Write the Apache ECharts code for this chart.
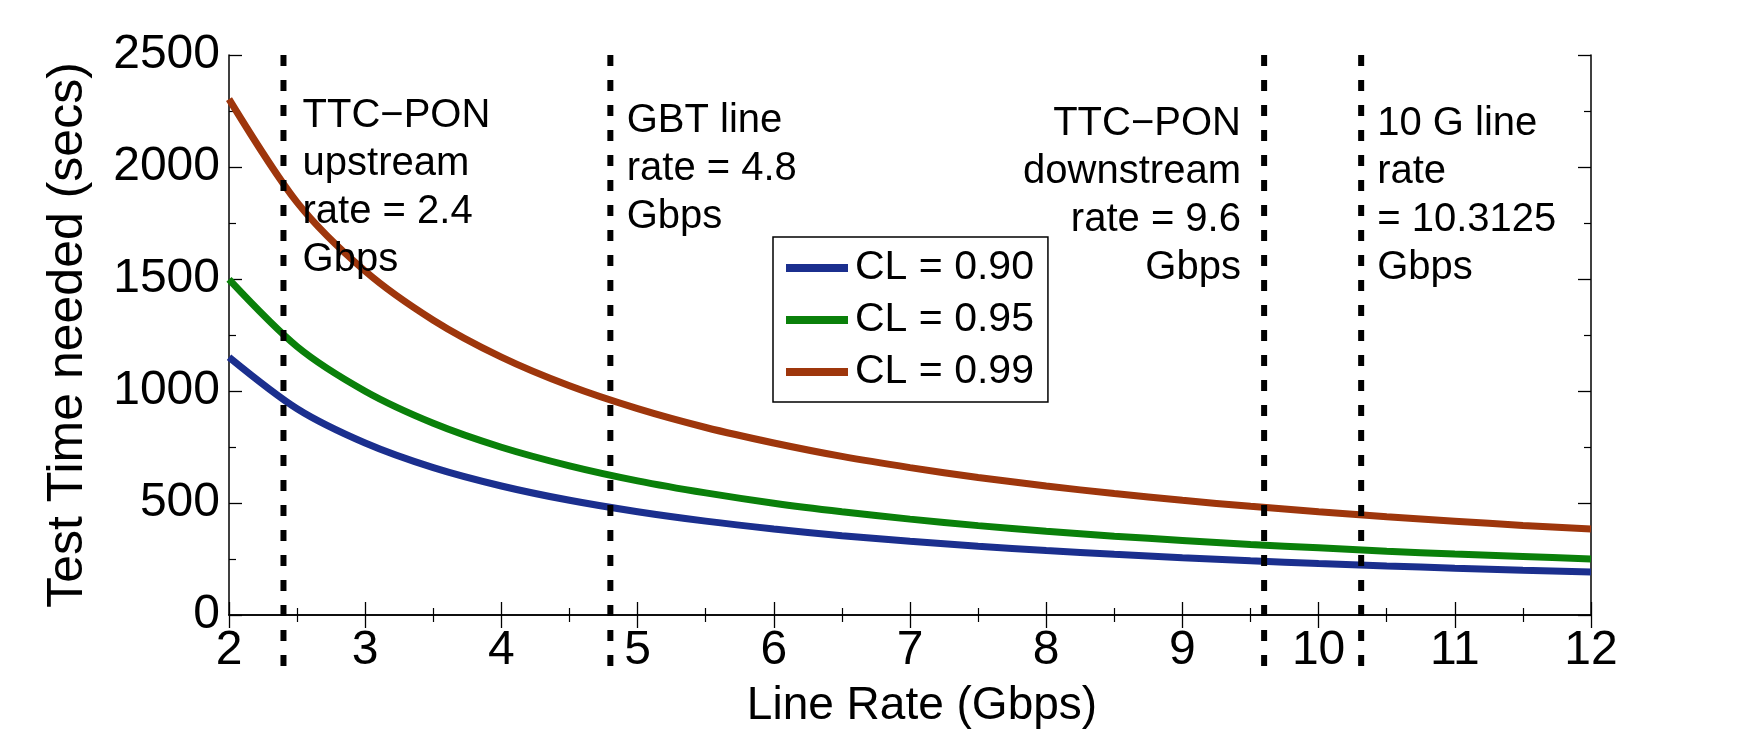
<!DOCTYPE html>
<html>
<head>
<meta charset="utf-8">
<script src="https://cdn.jsdelivr.net/npm/echarts@6/dist/echarts.min.js"></script>
<style>
  html, body { margin: 0; padding: 0; background: #fff; }
  #chart { width: 1759px; height: 753px; }
</style>
</head>
<body>
<div id="chart"></div>
<script>
// line rates (Gbps) sampled along the curves
const rates = [2, 2.5, 3, 3.5, 4, 4.5, 5, 5.5, 6, 6.5, 7, 7.5, 8, 8.5, 9, 9.5, 10, 10.5, 11, 11.5, 12];

// test time needed (secs)
const cl90 = [1151, 921, 768, 658, 576, 512, 461, 419, 384, 354, 329, 307, 288, 271, 256, 242, 230, 219, 209, 200, 192];
const cl95 = [1498, 1198, 999, 856, 749, 666, 599, 545, 499, 461, 428, 399, 374, 352, 333, 315, 300, 285, 272, 261, 250];
const cl99 = [2303, 1842, 1535, 1316, 1151, 1023, 921, 837, 768, 708, 658, 614, 576, 542, 512, 485, 461, 439, 419, 400, 384];

const seriesNames = ["CL = 0.90", "CL = 0.95", "CL = 0.99"];
const seriesColors = ["#1b2f8e", "#0a800a", "#9e360c"];

// reference rates marked by dashed lines
const markRates = [2.4, 4.8, 9.6, 10.3125];

// annotation texts: [x, y, align, lines]
const notes = [
  [2.54, 2335, "left", ["TTC\u2212PON", "upstream", "rate = 2.4", "Gbps"]],
  [4.92, 2313, "left", ["GBT line", "rate = 4.8", "Gbps"]],
  [9.43, 2299, "right", ["TTC\u2212PON", "downstream", "rate = 9.6", "Gbps"]],
  [10.43, 2299, "left", ["10 G line", "rate", "= 10.3125", "Gbps"]]
];

const FONT = "'Liberation Sans', Arial, Helvetica, sans-serif";

const chart = echarts.init(document.getElementById("chart"), null, { renderer: "canvas" });

const pair = vals => rates.map((r, i) => [r, vals[i]]);
const curveData = [cl90, cl95, cl99];

const tickCommon = {
  axisLine: { show: true, lineStyle: { color: "#000", width: 1.5 } },
  axisTick: { show: true, inside: true, length: 13, lineStyle: { color: "#000", width: 1.3 } },
  minorTick: { show: true, splitNumber: 2, length: 7, lineStyle: { color: "#000", width: 1.2 } },
  splitLine: { show: false }
};

const series = [];

curveData.forEach((vals, i) => {
  series.push({
    name: seriesNames[i],
    type: "line",
    xAxisIndex: 0,
    yAxisIndex: 0,
    data: pair(vals),
    smooth: 0.3,
    showSymbol: false,
    symbol: "none",
    lineStyle: { color: seriesColors[i], width: 7 },
    itemStyle: { color: seriesColors[i] },
    z: 3,
    silent: true
  });
});

// dashed vertical markers (drawn on a taller overlay grid so they run below the axis)
markRates.forEach(r => {
  series.push({
    type: "line",
    xAxisIndex: 2,
    yAxisIndex: 2,
    data: [[r, 1], [r, 0]],
    showSymbol: false,
    symbol: "none",
    lineStyle: { color: "#000", width: 6, type: [11, 14] },
    z: 4,
    silent: true
  });
});

// text annotations
notes.forEach(n => {
  series.push({
    type: "scatter",
    xAxisIndex: 0,
    yAxisIndex: 0,
    symbolSize: 0,
    data: [[n[0], n[1]]],
    silent: true,
    z: 5,
    itemStyle: { opacity: 1 },
    label: {
      show: true,
      position: [0, 0],
      align: n[2],
      verticalAlign: "top",
      formatter: n[3].join("\n"),
      fontFamily: FONT,
      fontSize: 40,
      lineHeight: 48,
      color: "#000",
      opacity: 1
    }
  });
});

chart.setOption({
  animation: false,
  backgroundColor: "#fff",
  grid: [
    { left: 229, right: 168, top: 55, bottom: 138, containLabel: false },
    { left: 229, right: 168, top: 55, bottom: 83, containLabel: false }
  ],
  legend: {
    data: seriesNames,
    orient: "vertical",
    left: 773,
    top: 237,
    padding: [9, 14, 8, 13],
    itemGap: 8,
    itemWidth: 62,
    itemHeight: 8,
    icon: "rect",
    backgroundColor: "#fff",
    borderColor: "#000",
    borderWidth: 1.5,
    borderRadius: 0,
    textStyle: { fontFamily: FONT, fontSize: 41, lineHeight: 44, color: "#000", padding: [0, 0, 0, 2] },
    selectedMode: false
  },
  xAxis: [
    Object.assign({
      type: "value",
      gridIndex: 0,
      min: 2,
      max: 12,
      interval: 1,
      position: "bottom",
      name: "Line Rate (Gbps)",
      nameLocation: "middle",
      nameGap: 68,
      nameTextStyle: { fontFamily: FONT, fontSize: 46, color: "#000", padding: [0, 0, 0, 24] },
      axisLabel: { fontFamily: FONT, fontSize: 48, color: "#000", margin: 12 }
    }, tickCommon),
    Object.assign({
      type: "value",
      gridIndex: 0,
      min: 2,
      max: 12,
      interval: 1,
      position: "top",
      axisLabel: { show: false }
    }, tickCommon),
    {
      type: "value",
      gridIndex: 1,
      min: 2,
      max: 12,
      show: false
    }
  ],
  yAxis: [
    Object.assign({
      type: "value",
      gridIndex: 0,
      min: 0,
      max: 2500,
      interval: 500,
      position: "left",
      name: "Test Time needed (secs)",
      nameLocation: "middle",
      nameGap: 136,
      nameTextStyle: { fontFamily: FONT, fontSize: 50, color: "#000" },
      axisLabel: { fontFamily: FONT, fontSize: 48, color: "#000", margin: 9, formatter: v => String(v) }
    }, tickCommon),
    Object.assign({
      type: "value",
      gridIndex: 0,
      min: 0,
      max: 2500,
      interval: 500,
      position: "right",
      axisLabel: { show: false }
    }, tickCommon),
    {
      type: "value",
      gridIndex: 1,
      min: 0,
      max: 1,
      show: false
    }
  ],
  series: series
});
</script>
</body>
</html>
